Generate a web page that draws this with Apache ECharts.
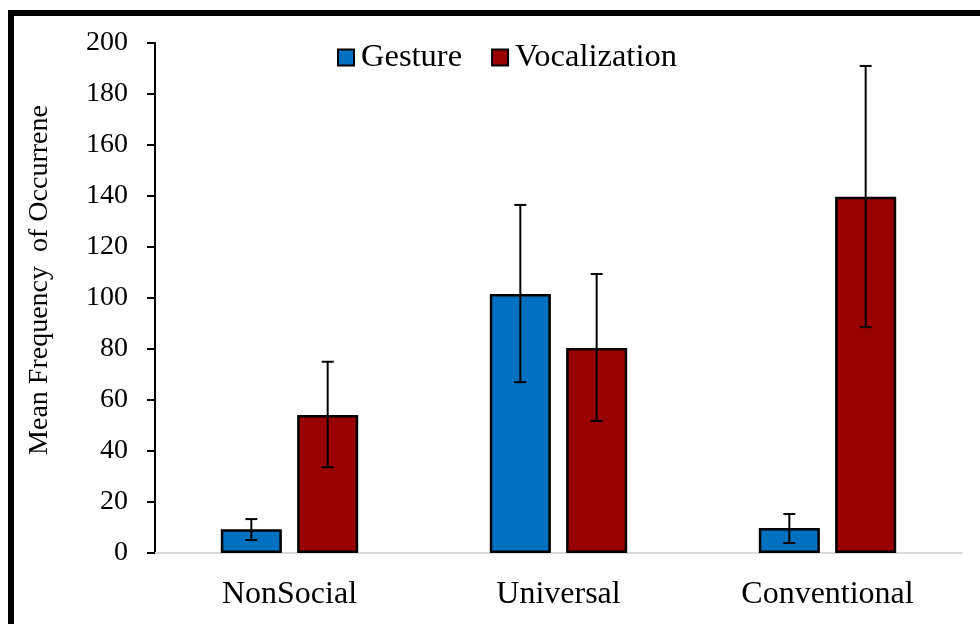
<!DOCTYPE html>
<html>
<head>
<meta charset="utf-8">
<script src="https://cdn.jsdelivr.net/npm/echarts@6/dist/echarts.min.js"></script>
<style>
  html, body { margin: 0; padding: 0; background: #fff; }
  #main { width: 980px; height: 624px; }
</style>
</head>
<body>
<div id="main"></div>
<script>
const categories = ['NonSocial', 'Universal', 'Conventional'];
const gesture = [9.3, 101.6, 9.8];
const gestureLow = [5.1, 67, 3.9];
const gestureHigh = [13.3, 136.5, 15.3];
const vocal = [54.1, 80.4, 139.7];
const vocalLow = [33.6, 51.8, 88.6];
const vocalHigh = [75, 109.4, 191];

const font = '"Liberation Serif", "Times New Roman", serif';
const myChart = echarts.init(document.getElementById('main'));

// error bar for series index 0 (left bar) or 1 (right bar)
function errorBar(side) {
  return function (params, api) {
    const cat = api.value(0);
    const hi = api.coord([cat, api.value(2)]);
    const lo = api.coord([cat, api.value(1)]);
    const band = api.size([1, 0])[0];
    const barW = band * 0.227;
    const gap = barW * 0.25;
    const offset = (barW + gap) / 2;
    const x = hi[0] + (side === 0 ? -offset : offset);
    const cap = 6;
    const style = { stroke: '#000', lineWidth: 2 };
    return {
      type: 'group',
      children: [
        { type: 'line', shape: { x1: x, y1: hi[1], x2: x, y2: lo[1] }, style },
        { type: 'line', shape: { x1: x - cap, y1: hi[1], x2: x + cap, y2: hi[1] }, style },
        { type: 'line', shape: { x1: x - cap, y1: lo[1], x2: x + cap, y2: lo[1] }, style }
      ]
    };
  };
}

myChart.setOption({
  animation: false,
  textStyle: { fontFamily: font },
  graphic: [
    { type: 'rect', shape: { x: 8, y: 10, width: 6, height: 614 }, style: { fill: '#000' } },
    { type: 'rect', shape: { x: 8, y: 10, width: 972, height: 6 }, style: { fill: '#000' } }
  ],
  legend: {
    top: 36,
    left: 332,
    icon: 'rect',
    itemWidth: 16,
    itemHeight: 16,
    itemGap: 29,
    textStyle: { fontFamily: font, fontSize: 32.5, color: '#000', padding: [0, 0, 0, 2] },
    data: ['Gesture', 'Vocalization']
  },
  grid: { left: 155, right: 18, top: 43, bottom: 71 },
  xAxis: {
    type: 'category',
    data: categories,
    axisLine: { lineStyle: { color: '#d9d9d9', width: 2 } },
    axisTick: { show: false },
    axisLabel: { color: '#000', fontFamily: font, fontSize: 32, margin: 26 }
  },
  yAxis: {
    type: 'value',
    min: 0,
    max: 200,
    interval: 20,
    name: 'Mean Frequency  of Occurrene',
    nameLocation: 'middle',
    nameGap: 101,
    nameTextStyle: { color: '#000', fontFamily: font, fontSize: 28, padding: [0, 0, 0, 36] },
    axisLine: { show: true, lineStyle: { color: '#000', width: 2 } },
    axisTick: { show: true, length: 8, lineStyle: { color: '#000', width: 2 } },
    axisLabel: { color: '#000', fontFamily: font, fontSize: 28, margin: 27 },
    splitLine: { show: false }
  },
  series: [
    {
      name: 'Gesture',
      type: 'bar',
      data: gesture,
      barWidth: '22.7%',
      barGap: '25%',
      itemStyle: { color: '#0070C0', borderColor: '#000', borderWidth: 2.5 }
    },
    {
      name: 'Vocalization',
      type: 'bar',
      data: vocal,
      barWidth: '22.7%',
      barGap: '25%',
      itemStyle: { color: '#990000', borderColor: '#000', borderWidth: 2.5 }
    },
    {
      type: 'custom',
      renderItem: errorBar(0),
      data: categories.map((c, i) => [i, gestureLow[i], gestureHigh[i]]),
      encode: { x: 0, y: [1, 2] },
      z: 10
    },
    {
      type: 'custom',
      renderItem: errorBar(1),
      data: categories.map((c, i) => [i, vocalLow[i], vocalHigh[i]]),
      encode: { x: 0, y: [1, 2] },
      z: 10
    }
  ]
});
</script>
</body>
</html>
